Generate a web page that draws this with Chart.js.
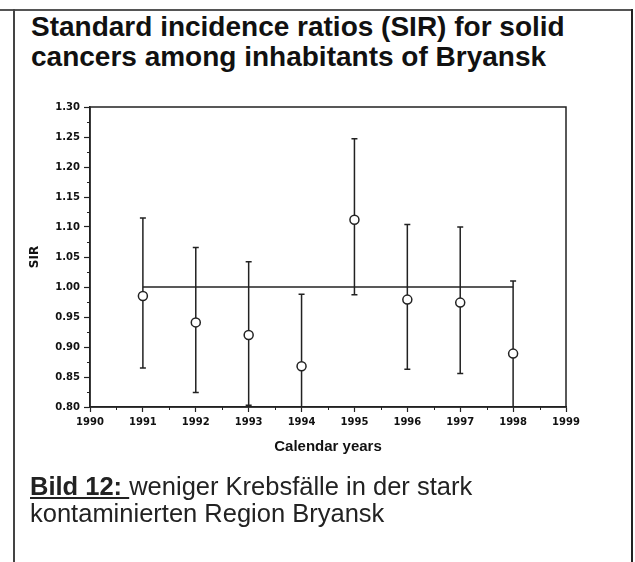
<!DOCTYPE html>
<html>
<head>
<meta charset="utf-8">
<script src="https://cdn.jsdelivr.net/npm/chart.js@4"></script>
<style>
  body { margin: 0; background: #fff; width: 635px; height: 562px; overflow: hidden; position: relative; font-family: "Liberation Sans", Arial, sans-serif; }
  #topline { position: absolute; left: 0; top: 9px; width: 633px; height: 2px; background: #555; }
  #frame { position: absolute; left: 13px; top: 9px; width: 616px; height: 560px; border-left: 2px solid #444; border-right: 2px solid #222; }
  #title { position: absolute; left: 31px; top: 12px; font-size: 28px; line-height: 30px; font-weight: bold; color: #111; }
  #caption { position: absolute; left: 30px; top: 473px; font-size: 25.5px; line-height: 27px; color: #222; }
  #caption b { text-decoration: underline; }
  canvas { position: absolute; left: 0; top: 0; }
</style>
</head>
<body>
<div id="topline"></div>
<div id="frame"></div>
<div id="title">Standard incidence ratios (SIR) for solid<br>cancers among inhabitants of Bryansk</div>
<canvas id="sirChart" width="635" height="562"></canvas>
<div id="caption"><b>Bild 12: </b>weniger Krebsfälle in der stark<br>kontaminierten Region Bryansk</div>
<script>
// Jahre und Werte
const years = [1991, 1992, 1993, 1994, 1995, 1996, 1997, 1998];
const sir = [0.985, 0.941, 0.920, 0.868, 1.112, 0.979, 0.974, 0.889];
const upper = [1.115, 1.066, 1.042, 0.988, 1.247, 1.104, 1.100, 1.010];
const lower = [0.865, 0.824, 0.803, 0.750, 0.987, 0.863, 0.856, 0.770];
const refYears = [1991, 1998];
const refValue = [1.0, 1.0];

const ink = '#222';

// Fehlerbalken
const errorBars = {
  id: 'errorBars',
  beforeDatasetsDraw(chart) {
    const { ctx, chartArea, scales: { x, y } } = chart;
    ctx.save();
    ctx.beginPath();
    ctx.rect(chartArea.left, chartArea.top - 10, chartArea.width, chartArea.height + 10);
    ctx.clip();
    ctx.strokeStyle = ink;
    ctx.lineWidth = 1.5;
    years.forEach((yr, i) => {
      const px = x.getPixelForValue(yr);
      const top = y.getPixelForValue(upper[i]);
      const bot = y.getPixelForValue(lower[i]);
      ctx.beginPath();
      ctx.moveTo(px, top); ctx.lineTo(px, bot);
      ctx.moveTo(px - 3, top); ctx.lineTo(px + 3, top);
      if (lower[i] >= y.min) { ctx.moveTo(px - 3, bot); ctx.lineTo(px + 3, bot); }
      ctx.stroke();
    });
    ctx.restore();
  }
};

// Rahmen + kleine Striche
const frameTicks = {
  id: 'frameTicks',
  afterDraw(chart) {
    const { ctx, chartArea: a, scales: { x, y } } = chart;
    ctx.save();
    ctx.strokeStyle = ink;
    ctx.lineWidth = 1.5;
    ctx.strokeRect(a.left, a.top, a.width, a.height);
    ctx.lineWidth = 1;
    ctx.beginPath();
    for (let v = 0.825; v < 1.3; v += 0.05) {
      const py = Math.round(y.getPixelForValue(v)) + 0.5;
      ctx.moveTo(a.left - 3, py); ctx.lineTo(a.left, py);
    }
    for (let v = 1990.5; v < 1999; v += 1) {
      const px = Math.round(x.getPixelForValue(v)) + 0.5;
      ctx.moveTo(px, a.bottom); ctx.lineTo(px, a.bottom + 3);
    }
    ctx.stroke();
    ctx.restore();
  }
};

new Chart(document.getElementById('sirChart'), {
  data: {
    datasets: [
      {
        type: 'line',
        data: refYears.map((yr, i) => ({ x: yr, y: refValue[i] })),
        borderColor: ink,
        borderWidth: 1.5,
        pointRadius: 0,
        order: 2
      },
      {
        type: 'scatter',
        data: years.map((yr, i) => ({ x: yr, y: sir[i] })),
        pointStyle: 'circle',
        pointRadius: 4.5,
        backgroundColor: '#fff',
        borderColor: ink,
        borderWidth: 1.5,
        order: 1
      }
    ]
  },
  options: {
    responsive: false,
    animation: false,
    layout: { padding: { left: 24, top: 107, right: 69, bottom: 102 } },
    plugins: { legend: { display: false }, tooltip: { enabled: false } },
    scales: {
      x: {
        type: 'linear',
        min: 1990,
        max: 1999,
        afterFit(scale) { scale.height = 53; },
        ticks: {
          stepSize: 1,
          padding: 4,
          color: '#111',
          font: { family: 'DejaVu Sans', size: 10, weight: 'bold' },
          callback: v => String(v)
        },
        grid: { drawOnChartArea: false, tickLength: 5, tickColor: ink, tickWidth: 1.2 },
        border: { color: ink, width: 1.5 },
        title: {
          display: true,
          text: 'Calendar years',
          color: '#111',
          font: { family: 'Liberation Sans', size: 15, weight: 'bold' }
        }
      },
      y: {
        min: 0.8,
        max: 1.3,
        afterFit(scale) { scale.width = 66; },
        ticks: {
          stepSize: 0.05,
          padding: 4,
          color: '#111',
          font: { family: 'DejaVu Sans', size: 10, weight: 'bold' },
          callback: v => v.toFixed(2)
        },
        grid: { drawOnChartArea: false, tickLength: 6, tickColor: ink, tickWidth: 1.2 },
        border: { color: ink, width: 1.5 },
        title: {
          display: true,
          text: 'SIR',
          color: '#111',
          font: { family: 'DejaVu Sans', size: 12, weight: 'bold' }
        }
      }
    }
  },
  plugins: [errorBars, frameTicks]
});
</script>
</body>
</html>
